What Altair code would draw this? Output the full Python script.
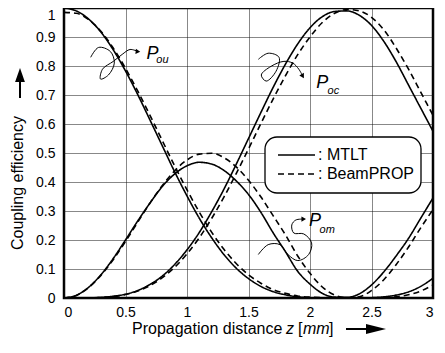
import altair as alt
import pandas as pd

# ---------------- data ----------------
z = [0.0, 0.1, 0.2, 0.3, 0.4, 0.5, 0.6, 0.7, 0.8, 0.9, 1.0,
     1.1, 1.2, 1.3, 1.4, 1.5, 1.6, 1.7, 1.8, 1.9, 2.0,
     2.1, 2.2, 2.3, 2.4, 2.5, 2.6, 2.7, 2.8, 2.9, 3.0]

# MTLT (solid)
pou_mtlt = [1.000, 0.990, 0.962, 0.917, 0.856, 0.783, 0.701, 0.613, 0.524, 0.435, 0.352,
            0.275, 0.208, 0.150, 0.103, 0.067, 0.040, 0.022, 0.011, 0.004, 0.001,
            0.000, 0.000, 0.000, 0.000, 0.001, 0.004, 0.010, 0.021, 0.040, 0.068]
pom_mtlt = [0.000, 0.009, 0.037, 0.080, 0.136, 0.200, 0.266, 0.328, 0.385, 0.428, 0.456,
            0.468, 0.462, 0.440, 0.404, 0.357, 0.296, 0.225, 0.160, 0.092, 0.048,
            0.016, 0.003, 0.002, 0.014, 0.045, 0.090, 0.145, 0.205, 0.275, 0.345]
poc_mtlt = [0.000, 0.000, 0.000, 0.002, 0.006, 0.013, 0.026, 0.047, 0.076, 0.116, 0.166,
            0.226, 0.297, 0.375, 0.461, 0.550, 0.639, 0.726, 0.806, 0.876, 0.932,
            0.970, 0.988, 0.990, 0.975, 0.940, 0.885, 0.815, 0.735, 0.655, 0.575]

# BeamPROP (dashed)
pou_bpm = [0.985, 0.982, 0.960, 0.920, 0.862, 0.792, 0.713, 0.629, 0.542, 0.455, 0.373,
           0.296, 0.227, 0.168, 0.119, 0.080, 0.051, 0.029, 0.016, 0.007, 0.003,
           0.001, 0.000, 0.000, 0.000, 0.000, 0.001, 0.004, 0.011, 0.024, 0.045]
pom_bpm = [0.000, 0.009, 0.036, 0.078, 0.132, 0.195, 0.262, 0.328, 0.388, 0.439, 0.476,
           0.496, 0.499, 0.484, 0.452, 0.406, 0.349, 0.284, 0.218, 0.145, 0.085,
           0.038, 0.010, 0.001, 0.004, 0.026, 0.063, 0.115, 0.175, 0.242, 0.305]
poc_bpm = [0.000, 0.000, 0.000, 0.002, 0.005, 0.012, 0.024, 0.043, 0.070, 0.106, 0.152,
           0.208, 0.274, 0.348, 0.429, 0.514, 0.601, 0.686, 0.766, 0.839, 0.900,
           0.950, 0.982, 0.995, 0.990, 0.968, 0.925, 0.862, 0.790, 0.710, 0.630]

x_ticks = [0, 0.5, 1, 1.5, 2, 2.5, 3]
y_ticks = [0, 0.1, 0.2, 0.3, 0.4, 0.5, 0.6, 0.7, 0.8, 0.9, 1]

# curve labels (data coordinates)
lab_text = ["P", "ou", "P", "oc", "P", "om"]
lab_z = [0.72, 0.80, 2.10, 2.19, 2.04, 2.14]
lab_v = [0.84, 0.82, 0.74, 0.715, 0.265, 0.235]
lab_size = [18, 11, 18, 11, 18, 11]

# hand-drawn pointer squiggles (data coordinates, in drawing order)
sq_ou_z = [0.217, 0.281, 0.377, 0.409, 0.361, 0.297, 0.313, 0.401, 0.473, 0.537, 0.601]
sq_ou_v = [0.830, 0.864, 0.850, 0.810, 0.769, 0.755, 0.789, 0.816, 0.840, 0.857, 0.850]
sq_oc_z = [1.580, 1.660, 1.748, 1.724, 1.644, 1.604, 1.684, 1.788, 1.860, 1.909, 1.941]
sq_oc_v = [0.823, 0.844, 0.830, 0.782, 0.748, 0.769, 0.799, 0.816, 0.810, 0.789, 0.765]
sq_om_z = [1.580, 1.660, 1.756, 1.820, 1.901, 1.989, 2.013, 1.949, 1.868, 1.852, 1.885, 1.949]
sq_om_v = [0.150, 0.184, 0.184, 0.150, 0.129, 0.150, 0.190, 0.221, 0.224, 0.252, 0.269, 0.272]
head_z = [0.601, 1.941, 1.949]
head_v = [0.850, 0.765, 0.272]
head_angle = [5, 60, 0]

# ---------------- build tables ----------------
rows = []
for curve, model, vals in [
    ("Pou", "MTLT", pou_mtlt), ("Pom", "MTLT", pom_mtlt), ("Poc", "MTLT", poc_mtlt),
    ("Pou", "BeamPROP", pou_bpm), ("Pom", "BeamPROP", pom_bpm), ("Poc", "BeamPROP", poc_bpm),
]:
    for zi, v in zip(z, vals):
        rows.append({"z": zi, "value": v, "curve": curve + model, "model": model})
df = pd.DataFrame(rows)
lab_df = pd.DataFrame({"t": lab_text, "z": lab_z, "value": lab_v, "fs": lab_size})

sq_rows = []
for name, zz, vv in [("ou", sq_ou_z, sq_ou_v), ("oc", sq_oc_z, sq_oc_v), ("om", sq_om_z, sq_om_v)]:
    for i, (a, b) in enumerate(zip(zz, vv)):
        sq_rows.append({"sq": name, "o": i, "z": a, "value": b})
sq_df = pd.DataFrame(sq_rows)
head_df = pd.DataFrame({"z": head_z, "value": head_v, "ang": head_angle})

FONT = "Liberation Sans"
W, H = 369, 290

xs = alt.Scale(domain=[0, 3], nice=False, zero=False)
ys = alt.Scale(domain=[0, 1], nice=False, zero=False)

grid_kw = dict(grid=True, gridDash=[1, 1], gridColor="#111", gridWidth=1,
               domain=False, ticks=False, labelFont=FONT, labelFontSize=14,
               labelColor="black", title=None, format="~g", labelOverlap=False)
x_axis = alt.Axis(values=x_ticks, labelPadding=7, **grid_kw)
y_axis = alt.Axis(values=y_ticks, labelPadding=9,
                  labelBaseline={"condition": {"test": "datum.value == 1", "value": "top"},
                                 "value": "middle"},
                  **grid_kw)


def X():
    return alt.X("z:Q", scale=xs, axis=x_axis)


def Y():
    return alt.Y("value:Q", scale=ys, axis=y_axis)


lines = alt.Chart(df).mark_line(color="black", strokeWidth=1.6, interpolate="monotone", clip=True).encode(
    x=X(), y=Y(),
    detail="curve:N",
    strokeDash=alt.StrokeDash("model:N", scale=alt.Scale(domain=["MTLT", "BeamPROP"],
                                                          range=[[1, 0], [6, 4]]), legend=None),
)

labels = alt.Chart(lab_df).mark_text(font=FONT, fontStyle="italic", color="black",
                                     align="center", baseline="middle").encode(
    x=X(), y=Y(), text="t:N", size=alt.Size("fs:Q", scale=None),
)

squig = alt.Chart(sq_df).mark_line(color="black", strokeWidth=1, interpolate="catmull-rom").encode(
    x=X(), y=Y(), detail="sq:N", order="o:Q",
)
heads = alt.Chart(head_df).mark_point(shape="triangle-right", filled=True, color="black",
                                      size=28, opacity=1).encode(
    x=X(), y=Y(), angle=alt.Angle("ang:Q", scale=None),
)

one = pd.DataFrame({"a": [0]})

# legend box
box = alt.Chart(one).mark_rect(fill="white", stroke="black", strokeWidth=1.3, cornerRadius=12).encode(
    x=alt.value(201), x2=alt.value(357), y=alt.value(129), y2=alt.value(185))
leg_solid = alt.Chart(one).mark_rule(color="black", strokeWidth=1.6).encode(
    x=alt.value(214), x2=alt.value(251), y=alt.value(147))
leg_dash = alt.Chart(one).mark_rule(color="black", strokeWidth=1.6, strokeDash=[6, 4]).encode(
    x=alt.value(214), x2=alt.value(251), y=alt.value(166))
leg_t1 = alt.Chart(pd.DataFrame({"t": [": MTLT"]})).mark_text(
    font=FONT, fontSize=16, align="left", baseline="middle", color="black").encode(
    x=alt.value(254), y=alt.value(147), text="t:N")
leg_t2 = alt.Chart(pd.DataFrame({"t": [": BeamPROP"]})).mark_text(
    font=FONT, fontSize=16, align="left", baseline="middle", color="black").encode(
    x=alt.value(254), y=alt.value(166), text="t:N")

# axis titles with arrows
ytitle = alt.Chart(pd.DataFrame({"t": ["Coupling efficiency"]})).mark_text(
    font=FONT, fontSize=16, angle=270, align="center", baseline="middle", color="black").encode(
    x=alt.value(-46), y=alt.value(175), text="t:N")
yarrow = alt.Chart(one).mark_rule(color="black", strokeWidth=2).encode(
    x=alt.value(-44), y=alt.value(90), y2=alt.value(72))
yhead = alt.Chart(one).mark_point(shape="M -0.7 1 L 0 -1 L 0.7 1 Z", filled=True, color="black",
                                  size=196, opacity=1, strokeWidth=0).encode(
    x=alt.value(-44), y=alt.value(67))

XT_Y = 326
xt_parts = [("Propagation distance", "normal", 68), ("z", "italic", 222), ("[", "normal", 234),
            ("mm", "italic", 239), ("]", "normal", 265)]
xtitle_layers = []
for t, st, px in xt_parts:
    xtitle_layers.append(alt.Chart(pd.DataFrame({"t": [t]})).mark_text(
        font=FONT, fontSize=16, fontStyle=st, align="left", baseline="alphabetic", color="black").encode(
        x=alt.value(px), y=alt.value(XT_Y), text="t:N"))
xarrow = alt.Chart(one).mark_rule(color="black", strokeWidth=2).encode(
    x=alt.value(282), x2=alt.value(305), y=alt.value(XT_Y - 5))
xhead = alt.Chart(one).mark_point(shape="M -1 -0.5 L 1 0 L -1 0.5 Z", filled=True, color="black",
                                  size=400, opacity=1, strokeWidth=0).encode(
    x=alt.value(312), y=alt.value(XT_Y - 5))

chart = alt.layer(
    lines, squig, heads, box, leg_solid, leg_dash, leg_t1, leg_t2, labels,
    ytitle, yarrow, yhead, *xtitle_layers, xarrow, xhead,
).properties(
    width=W, height=H,
    autosize=alt.AutoSizeParams(type="none"),
    padding={"left": 56, "top": 0, "right": 4, "bottom": 39},
    background="white",
).configure_view(stroke="black", strokeWidth=2.5)

chart.save("out.html", embed_options={"renderer": "svg", "actions": False})
